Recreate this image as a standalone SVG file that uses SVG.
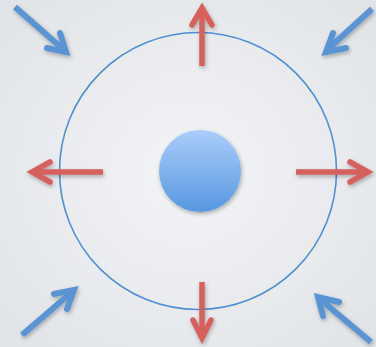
<svg xmlns="http://www.w3.org/2000/svg" width="376" height="347" viewBox="0 0 376 347">
<defs>
<radialGradient id="bg" cx="0.5" cy="0.5" r="0.75">
<stop offset="0" stop-color="#f3f4f6"/>
<stop offset="1" stop-color="#dfe2e6"/>
</radialGradient>
<linearGradient id="ball" x1="0" y1="0" x2="0" y2="1">
<stop offset="0" stop-color="#abcdfb"/>
<stop offset="1" stop-color="#5797e0"/>
</linearGradient>
<filter id="sh" x="-30%" y="-30%" width="160%" height="160%">
<feGaussianBlur in="SourceAlpha" stdDeviation="2"/>
<feOffset dx="1" dy="2"/>
<feComponentTransfer><feFuncA type="linear" slope="0.3"/></feComponentTransfer>
<feMerge><feMergeNode/><feMergeNode in="SourceGraphic"/></feMerge>
</filter>
</defs>
<style>
.r{fill:none;stroke:#d6615b;stroke-width:5.5;stroke-linecap:butt}
.rh{fill:none;stroke:#d6615b;stroke-width:5.5;stroke-linecap:round;stroke-linejoin:miter;stroke-miterlimit:10}
.b{fill:none;stroke:#5a94d3;stroke-width:6;stroke-linecap:butt}
.bh{fill:none;stroke:#5a94d3;stroke-width:6;stroke-linecap:round;stroke-linejoin:miter;stroke-miterlimit:10}
</style>
<rect width="376" height="347" fill="url(#bg)"/>
<g id="ring"><circle cx="198" cy="171" r="138.5" fill="none" stroke="#4f8fd6" stroke-width="1.6"/></g>
<g id="core" filter="url(#sh)"><circle cx="200" cy="171" r="41" fill="url(#ball)"/></g>
<g id="connectors" filter="url(#sh)">
<g id="out-top"><line class="r" x1="202" y1="66" x2="202" y2="9"/><polyline class="rh" points="192,25 202,8 212,25"/></g>
<g id="out-bottom"><line class="r" x1="202" y1="282" x2="202" y2="337"/><polyline class="rh" points="193,320 202,338 211,320"/></g>
<g id="out-left"><line class="r" x1="103" y1="172" x2="33" y2="172"/><polyline class="rh" points="50,162 32,172 50,182"/></g>
<g id="out-right"><line class="r" x1="296" y1="172" x2="366" y2="172"/><polyline class="rh" points="350,162 368,172 350,182"/></g>
<g id="in-tl"><line class="b" x1="15" y1="7" x2="64" y2="50"/><polyline class="bh" points="60,33 66,52 47,48"/></g>
<g id="in-tr"><line class="b" x1="372" y1="9" x2="327" y2="50"/><polyline class="bh" points="333,33 326,52 346,48"/></g>
<g id="in-bl"><line class="b" x1="22" y1="335" x2="72" y2="292"/><polyline class="bh" points="54,294 74,290 67,309"/></g>
<g id="in-br"><line class="b" x1="371" y1="342" x2="321" y2="300"/><polyline class="bh" points="339,302 318,297 323,316"/></g>
</g>
</svg>
